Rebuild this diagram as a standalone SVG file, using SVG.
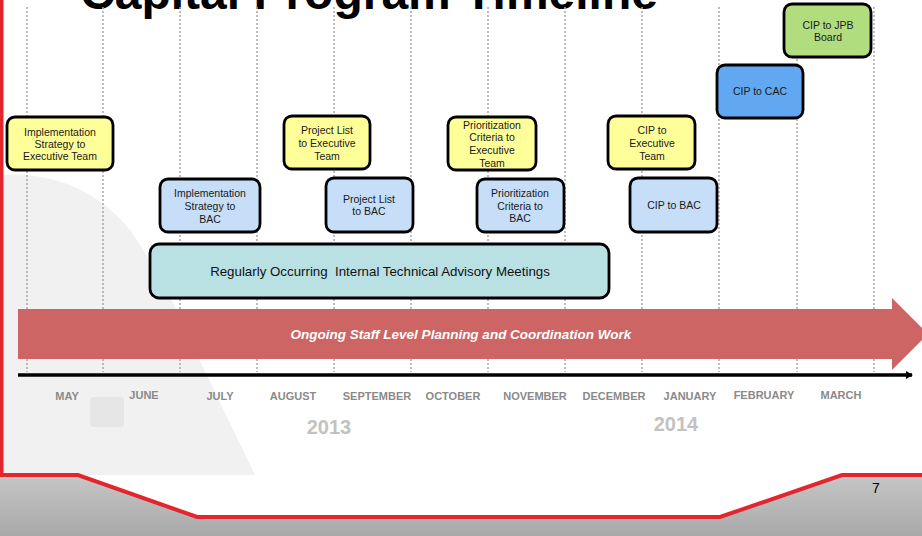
<svg xmlns="http://www.w3.org/2000/svg" width="922" height="536" viewBox="0 0 922 536">
<defs>
<linearGradient id="gbot" x1="0" y1="0" x2="0" y2="1">
<stop offset="0" stop-color="#c6c6c6"/>
<stop offset="1" stop-color="#a9a9a9"/>
</linearGradient>
<marker id="axhead" markerWidth="8" markerHeight="8" refX="6" refY="4" orient="auto" markerUnits="userSpaceOnUse">
<path d="M0,0 L7,4 L0,8 Z" fill="#000"/>
</marker>
<style>
.grid{stroke:#a8a8a8;stroke-width:1.5;stroke-dasharray:2 2;fill:none}
.box{stroke:#000;stroke-width:2.8}
.yel{fill:#ffff99}
.lb{fill:#c6def7}
.bt{font-family:"Liberation Sans",Arial,sans-serif;font-size:10.5px;fill:#1a1a1a;text-anchor:middle}
.mon{font-family:"Liberation Sans",Arial,sans-serif;font-size:11px;font-weight:bold;fill:#8a8a8a;text-anchor:middle}
.yr{font-family:"Liberation Sans",Arial,sans-serif;font-size:20px;font-weight:bold;fill:#c2c2c2;text-anchor:middle}
</style>
</defs>
<rect width="922" height="536" fill="#fff"/>
<!-- faint background shapes -->
<path d="M0,175 Q80,170 130,230 Q165,280 185,330 L255,475 L0,475 Z" fill="#f1f1f1"/>
<rect x="90" y="397" width="34" height="30" rx="3" fill="#e6e6e6"/>
<!-- bottom gray band with red border -->
<path d="M0,475 L78,475 L197,517 L720,517 L842,475 L922,475 L922,536 L0,536 Z" fill="url(#gbot)"/>
<path d="M1.5,0 L1.5,475 L78,475 L197,517 L720,517 L842,475 L922,475" fill="none" stroke="#e3262d" stroke-width="4"/>
<text x="876" y="493" font-family="'Liberation Sans',Arial,sans-serif" font-size="14" fill="#000" text-anchor="middle">7</text>
<!-- title -->
<text x="369" y="9" font-family="'Liberation Sans',Arial,sans-serif" font-size="48" font-weight="bold" fill="#000" text-anchor="middle">Capital Program Timeline</text>
<!-- grid lines -->
<g id="grid">
<line class="grid" x1="27" y1="7" x2="27" y2="372"/>
<line class="grid" x1="103" y1="7" x2="103" y2="372"/>
<line class="grid" x1="180" y1="7" x2="180" y2="372"/>
<line class="grid" x1="257" y1="7" x2="257" y2="372"/>
<line class="grid" x1="334" y1="7" x2="334" y2="372"/>
<line class="grid" x1="411" y1="7" x2="411" y2="372"/>
<line class="grid" x1="488" y1="7" x2="488" y2="372"/>
<line class="grid" x1="565" y1="7" x2="565" y2="372"/>
<line class="grid" x1="642" y1="7" x2="642" y2="372"/>
<line class="grid" x1="719" y1="7" x2="719" y2="372"/>
<line class="grid" x1="797" y1="7" x2="797" y2="372"/>
<line class="grid" x1="874" y1="7" x2="874" y2="372"/>
</g>
<!-- ongoing arrow -->
<g id="ongoing">
<path d="M18,309 L892,309 L892,298 L928,334 L892,370 L892,359 L18,359 Z" fill="#cd6565"/>
<text x="461" y="339" font-family="'Liberation Sans',Arial,sans-serif" font-size="13.5" font-weight="bold" font-style="italic" fill="#fff" text-anchor="middle">Ongoing Staff Level Planning and Coordination Work</text>
</g>
<!-- connectors: timeline axis -->
<g id="connectors">
<line x1="18" y1="375" x2="912" y2="375" stroke="#000" stroke-width="3.5" marker-end="url(#axhead)"/>
</g>
<!-- months -->
<g id="months">
<text class="mon" x="67" y="400">MAY</text>
<text class="mon" x="144" y="399">JUNE</text>
<text class="mon" x="220" y="400">JULY</text>
<text class="mon" x="293" y="400">AUGUST</text>
<text class="mon" x="377" y="400">SEPTEMBER</text>
<text class="mon" x="453" y="400">OCTOBER</text>
<text class="mon" x="535" y="400">NOVEMBER</text>
<text class="mon" x="614" y="400">DECEMBER</text>
<text class="mon" x="690" y="400">JANUARY</text>
<text class="mon" x="764" y="399">FEBRUARY</text>
<text class="mon" x="841" y="399">MARCH</text>
<text class="yr" x="329" y="434">2013</text>
<text class="yr" x="676" y="431">2014</text>
</g>
<!-- nodes -->
<g id="n-impl-exec">
<rect class="box yel" x="7" y="117" width="106" height="53" rx="8"/>
<text class="bt" x="60" y="136">Implementation</text>
<text class="bt" x="60" y="148">Strategy to</text>
<text class="bt" x="60" y="160">Executive Team</text>
</g>
<g id="n-impl-bac">
<rect class="box lb" x="160" y="179" width="100" height="53" rx="8"/>
<text class="bt" x="210" y="197">Implementation</text>
<text class="bt" x="210" y="210">Strategy to</text>
<text class="bt" x="210" y="223">BAC</text>
</g>
<g id="n-proj-exec">
<rect class="box yel" x="284" y="116" width="86" height="53" rx="8"/>
<text class="bt" x="327" y="134">Project List</text>
<text class="bt" x="327" y="147">to Executive</text>
<text class="bt" x="327" y="160">Team</text>
</g>
<g id="n-proj-bac">
<rect class="box lb" x="326" y="178" width="87" height="54" rx="8"/>
<text class="bt" x="369" y="203">Project List</text>
<text class="bt" x="369" y="215">to BAC</text>
</g>
<g id="n-prio-exec">
<rect class="box yel" x="448" y="117" width="88" height="53" rx="8"/>
<text class="bt" x="492" y="129">Prioritization</text>
<text class="bt" x="492" y="141">Criteria to</text>
<text class="bt" x="492" y="154">Executive</text>
<text class="bt" x="492" y="167">Team</text>
</g>
<g id="n-prio-bac">
<rect class="box lb" x="477" y="179" width="87" height="53" rx="8"/>
<text class="bt" x="520" y="197">Prioritization</text>
<text class="bt" x="520" y="210">Criteria to</text>
<text class="bt" x="520" y="222">BAC</text>
</g>
<g id="n-cip-exec">
<rect class="box yel" x="608" y="116" width="87" height="53" rx="8"/>
<text class="bt" x="652" y="134">CIP to</text>
<text class="bt" x="652" y="147">Executive</text>
<text class="bt" x="652" y="160">Team</text>
</g>
<g id="n-cip-bac">
<rect class="box lb" x="630" y="178" width="87" height="54" rx="8"/>
<text class="bt" x="674" y="209">CIP to BAC</text>
</g>
<g id="n-cip-cac">
<rect class="box" x="717" y="65" width="86" height="53" rx="8" fill="#62a7f1"/>
<text class="bt" x="760" y="95">CIP to CAC</text>
</g>
<g id="n-cip-jpb">
<rect class="box" x="784" y="4" width="87" height="53" rx="8" fill="#b1dd7f"/>
<text class="bt" x="828" y="29">CIP to JPB</text>
<text class="bt" x="828" y="41">Board</text>
</g>
<g id="n-tac">
<rect class="box" x="150" y="244" width="459" height="54" rx="9" fill="#b9e0e3"/>
<text x="380" y="276" font-family="'Liberation Sans',Arial,sans-serif" font-size="13.3" fill="#111" text-anchor="middle" xml:space="preserve">Regularly Occurring  Internal Technical Advisory Meetings</text>
</g>
</svg>
